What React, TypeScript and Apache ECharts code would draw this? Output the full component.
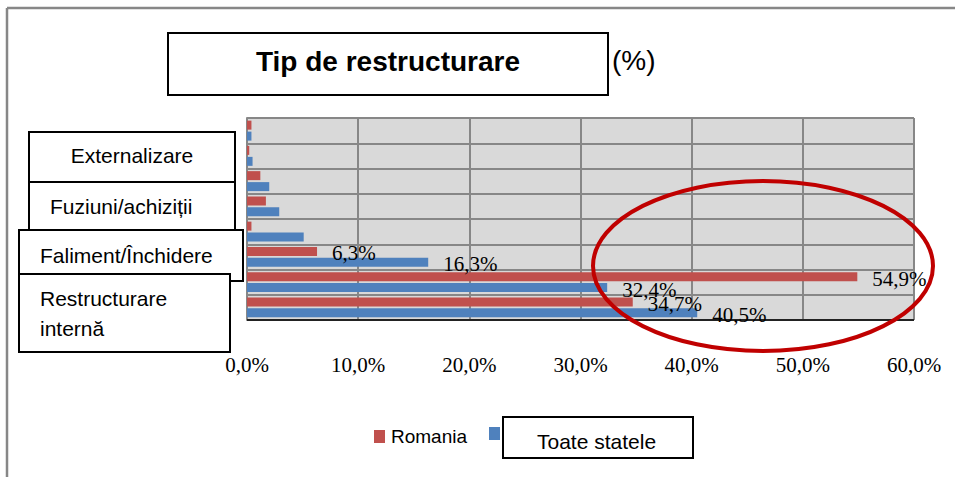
import React, { useEffect, useRef } from 'react';
import * as echarts from 'echarts';

// ---- data ----
const categories = ['Categoria 1', 'Categoria 2', 'Categoria 3', 'Categoria 4', 'Categoria 5', 'Categoria 6', 'Categoria 7', 'Categoria 8'];
const romania = [0.4, 0.2, 1.2, 1.7, 0.4, 6.3, 54.9, 34.7];
const toateStatele = [0.4, 0.5, 2.0, 2.9, 5.1, 16.3, 32.4, 40.5];
const labelledCategories = ['Categoria 6', 'Categoria 7', 'Categoria 8'];
const seriesNames = ['Romania', 'Toate statele'];
const boxLabels = ['Externalizare', 'Fuziuni/achiziții', 'Faliment/Închidere', 'Restructurare\ninternă'];
const titleText = 'Tip de restructurare';
const unitText = '(%)';
const axisMin = 0;
const axisMax = 60;
const axisInterval = 10;

const RED = '#C0504D';
const BLUE = '#4F81BD';

const fmt = (v: number) => v.toFixed(1).replace('.', ',') + '%';

const makeData = (vals: number[]) =>
  vals.map((v, i) => ({
    value: v,
    label: { show: labelledCategories.includes(categories[i]) },
  }));

const boxText = (x: number, y: number, text: string, align: string) => ({
  type: 'text',
  x,
  y,
  style: {
    text,
    fill: '#000',
    font: '21px "Liberation Sans", Arial, sans-serif',
    align,
    verticalAlign: 'middle',
  },
});

export default function App() {
  const ref = useRef<HTMLDivElement>(null);
  useEffect(() => {
    if (!ref.current) return;
    const chart = echarts.init(ref.current, null, { renderer: 'svg' });
    const labelCommon = {
      position: 'right',
      distance: 15,
      offset: [0, 2],
      color: '#000',
      fontFamily: '"Liberation Serif", "Times New Roman", serif',
      fontSize: 21,
      formatter: (p: any) => fmt(p.value),
    };
    chart.setOption({
      animation: false,
      backgroundColor: '#fff',
      grid: { left: 247, top: 118, width: 667, height: 202, containLabel: false, show: true, backgroundColor: '#D9D9D9', borderWidth: 0 },
      legend: [
        {
          data: [seriesNames[0]],
          left: 374,
          top: 427,
          padding: 0,
          itemWidth: 11,
          itemHeight: 13,
          itemGap: 0,
          icon: 'rect',
          textStyle: { fontFamily: '"Liberation Sans", Arial, sans-serif', fontSize: 19, color: '#000', padding: [0, 0, 0, 1] },
        },
        {
          data: [seriesNames[1]],
          left: 489,
          top: 427,
          padding: 0,
          itemWidth: 11,
          itemHeight: 13,
          icon: 'rect',
          formatter: () => '',
        },
      ],
      xAxis: {
        type: 'value',
        min: axisMin,
        max: axisMax,
        interval: axisInterval,
        axisLine: { show: false },
        axisTick: { show: false },
        splitLine: { show: true, lineStyle: { color: '#878787', width: 2 } },
        axisLabel: {
          formatter: (v: number) => fmt(v),
          margin: 34,
          color: '#000',
          fontFamily: '"Liberation Serif", "Times New Roman", serif',
          fontSize: 21,
        },
      },
      yAxis: {
        type: 'category',
        data: categories,
        inverse: true,
        axisLine: { show: true, lineStyle: { color: '#878787', width: 2 } },
        axisTick: { show: false },
        axisLabel: { show: false },
        splitLine: { show: true, lineStyle: { color: '#878787', width: 2 } },
      },
      series: [
        {
          name: seriesNames[0],
          type: 'bar',
          data: makeData(romania),
          itemStyle: { color: RED },
          barWidth: 9,
          barGap: '22%',
          label: labelCommon,
          z: 3,
        },
        {
          name: seriesNames[1],
          type: 'bar',
          data: makeData(toateStatele),
          itemStyle: { color: BLUE },
          barWidth: 9,
          barGap: '22%',
          label: labelCommon,
          z: 3,
        },
      ],
      graphic: [
        // outer frame
        { type: 'line', shape: { x1: 7, y1: 8, x2: 955, y2: 8 }, style: { stroke: '#878787', lineWidth: 2.5 }, z: 10 },
        { type: 'line', shape: { x1: 7, y1: 8, x2: 7, y2: 477 }, style: { stroke: '#878787', lineWidth: 2.5 }, z: 10 },
        // bottom axis line
        { type: 'line', shape: { x1: 247, y1: 320, x2: 914, y2: 320 }, style: { stroke: '#000', lineWidth: 1.5 }, z: 10 },
        // title box
        { type: 'rect', shape: { x: 168, y: 33, width: 440, height: 62 }, style: { fill: '#fff', stroke: '#000', lineWidth: 2 }, z: 20 },
        {
          type: 'text', x: 388, y: 61, z: 21,
          style: { text: titleText, fill: '#000', font: 'bold 28px "Liberation Sans", Arial, sans-serif', align: 'center', verticalAlign: 'middle' },
        },
        {
          type: 'text', x: 612, y: 60, z: 21,
          style: { text: unitText, fill: '#000', font: '28px "Liberation Sans", Arial, sans-serif', align: 'left', verticalAlign: 'middle' },
        },
        // category label boxes
        { type: 'rect', shape: { x: 29, y: 132, width: 206, height: 50 }, style: { fill: '#fff', stroke: '#000', lineWidth: 2 }, z: 20 },
        { ...boxText(132, 155, boxLabels[0], 'center'), z: 21 },
        { type: 'rect', shape: { x: 29, y: 182, width: 206, height: 48 }, style: { fill: '#fff', stroke: '#000', lineWidth: 2 }, z: 22 },
        { ...boxText(50, 206, boxLabels[1], 'left'), z: 23 },
        { type: 'rect', shape: { x: 19, y: 230, width: 224, height: 51 }, style: { fill: '#fff', stroke: '#000', lineWidth: 2 }, z: 24 },
        { ...boxText(40, 255, boxLabels[2], 'left'), z: 25 },
        { type: 'rect', shape: { x: 19, y: 274, width: 211, height: 78 }, style: { fill: '#fff', stroke: '#000', lineWidth: 2 }, z: 26 },
        {
          type: 'text', x: 40, y: 313, z: 27,
          style: { text: boxLabels[3], fill: '#000', font: '21px "Liberation Sans", Arial, sans-serif', align: 'left', verticalAlign: 'middle', lineHeight: 30 },
        },
        // legend box for second series
        { type: 'rect', shape: { x: 503, y: 417, width: 190, height: 41 }, style: { fill: '#fff', stroke: '#000', lineWidth: 2 }, z: 20 },
        {
          type: 'text', x: 537, y: 441, z: 21,
          style: { text: seriesNames[1], fill: '#000', font: '21px "Liberation Sans", Arial, sans-serif', align: 'left', verticalAlign: 'middle' },
        },
        // highlight ellipse
        { type: 'ellipse', shape: { cx: 763, cy: 266, rx: 170, ry: 85 }, style: { fill: 'none', stroke: '#C00000', lineWidth: 4 }, z: 30 },
      ],
    });
    return () => chart.dispose();
  }, []);
  return <div ref={ref} style={{ position: 'fixed', left: 0, top: 0, width: 955, height: 477 }} />;
}
